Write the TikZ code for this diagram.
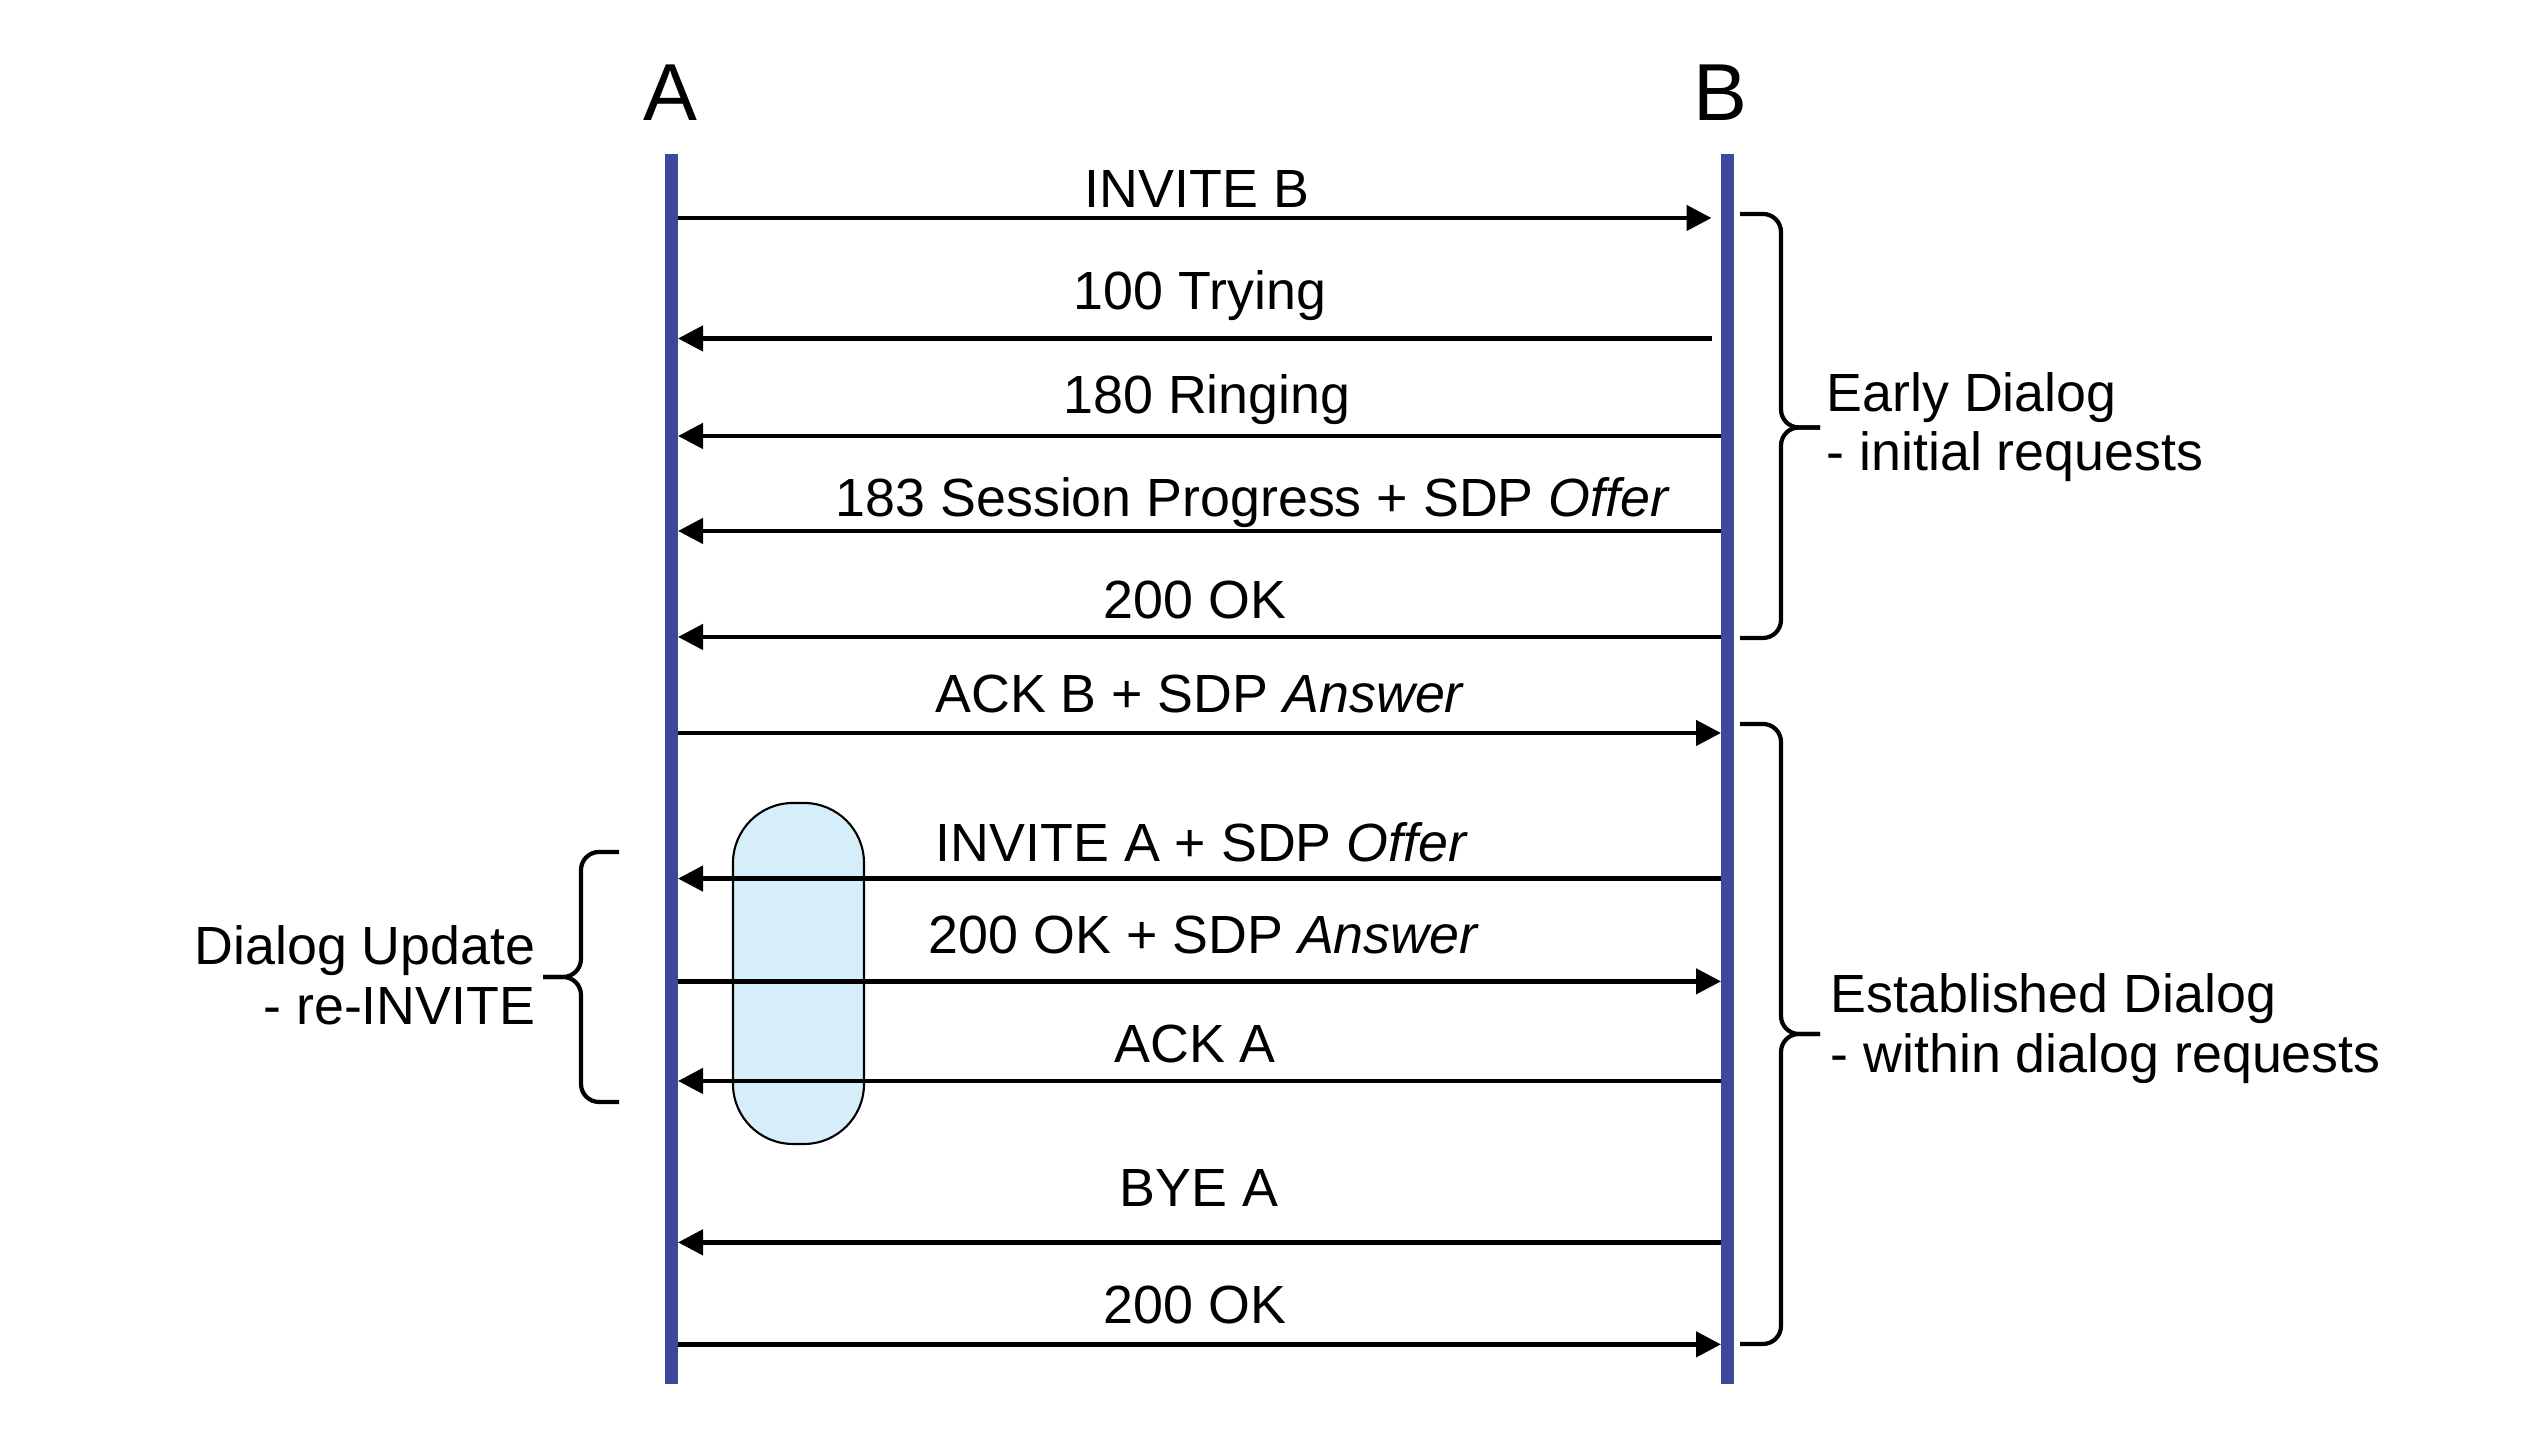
\documentclass[tikz,border=0pt]{standalone}
\usepackage{fontspec}
\setmainfont{Liberation Sans}
\usetikzlibrary{arrows.meta}

\definecolor{lifeblue}{RGB}{63,71,155}
\definecolor{boxblue}{RGB}{213,238,250}

\begin{document}
\begin{tikzpicture}[
  lifeline/.style={line width=0.13cm, lifeblue},
  msg/.style={line width=1.3pt, -{Triangle[length=0.25cm,width=0.25cm]}},
  lbl/.style={anchor=base, inner sep=0pt, font=\fontsize{15.3}{18}\selectfont},
  party/.style={anchor=base, inner sep=0pt, font=\fontsize{23}{27}\selectfont},
  note/.style={inner sep=0pt, font=\fontsize{15.3}{18}\selectfont},
  dlgbrace/.style={line width=1.2pt, rounded corners=0.18cm}
]
\useasboundingbox (0,0) rectangle (25.36,14.5);

% parties and lifelines
\node[party] (A) at (6.705,13.29) {A};
\node[party] (B) at (17.20,13.29) {B};
\coordinate (Atop) at (6.71,12.96);
\coordinate (Abot) at (6.71,0.66);
\coordinate (Btop) at (17.275,12.96);
\coordinate (Bbot) at (17.275,0.66);
\draw[lifeline] (Atop) -- (Abot);
\draw[lifeline] (Btop) -- (Bbot);

% re-INVITE box
\node[draw, fill=boxblue, line width=0.6pt, rounded corners=0.6cm,
      minimum width=1.31cm, minimum height=3.41cm] (reinv) at (7.985,4.765) {};

% message end points and labels
\foreach \n/\y/\xl/\yl/\txt in {
  1/12.32/11.97/12.42/{INVITE B},
  2/11.115/12.00/11.40/{100 Trying},
  3/10.14/12.07/10.36/{180 Ringing},
  4/9.19/12.53/9.33/{183 Session Progress + SDP \textit{Offer}},
  5/8.13/11.95/8.315/{200 OK},
  6/7.17/12.00/7.374/{ACK B + SDP \textit{Answer}},
  7/5.714/12.02/5.88/{INVITE A + SDP \textit{Offer}},
  8/4.686/12.04/4.962/{200 OK + SDP \textit{Answer}},
  9/3.69/11.95/3.875/{ACK A},
  10/2.076/11.99/2.432/{BYE A},
  11/1.056/11.95/1.265/{200 OK}}{
  \coordinate (a\n) at (6.78,\y);
  \coordinate (b\n) at (17.21,\y);
  \node[lbl] (m\n) at (\xl,\yl) {\txt};
}

\draw[msg, shorten >=0.095cm] (a1) -- (b1);
\draw[msg, shorten <=0.095cm] (b2) -- (a2);
\draw[msg] (b3) -- (a3);
\draw[msg] (b4) -- (a4);
\draw[msg] (b5) -- (a5);
\draw[msg] (a6) -- (b6);
\draw[msg] (b7) -- (a7);
\draw[msg] (a8) -- (b8);
\draw[msg] (b9) -- (a9);
\draw[msg] (b10) -- (a10);
\draw[msg] (a11) -- (b11);

% braces
\coordinate (earlyTop) at (17.40,12.36);
\coordinate (earlyBot) at (17.40,8.12);
\coordinate (earlyMid) at (17.81,10.225);
\coordinate (earlyPt) at (18.20,10.225);
\draw[dlgbrace] (earlyTop) -| (earlyMid) -- (earlyPt);
\draw[dlgbrace] (earlyBot) -| (earlyMid) -- (earlyPt);

\coordinate (estTop) at (17.40,7.26);
\coordinate (estBot) at (17.40,1.06);
\coordinate (estMid) at (17.81,4.16);
\coordinate (estPt) at (18.20,4.16);
\draw[dlgbrace] (estTop) -| (estMid) -- (estPt);
\draw[dlgbrace] (estBot) -| (estMid) -- (estPt);

\coordinate (updTop) at (6.19,5.98);
\coordinate (updBot) at (6.19,3.48);
\coordinate (updMid) at (5.81,4.73);
\coordinate (updPt) at (5.43,4.73);
\draw[dlgbrace] (updTop) -| (updMid) -- (updPt);
\draw[dlgbrace] (updBot) -| (updMid) -- (updPt);

% brace notes
\node[note, anchor=base west] (early1) at (18.26,10.384) {Early Dialog};
\node[note, anchor=base west] (early2) at (18.26,9.79) {- initial requests};
\node[note, anchor=base west] (est1) at (18.30,4.37) {Established Dialog};
\node[note, anchor=base west] (est2) at (18.30,3.77) {- within dialog requests};
\node[note, anchor=base east] (upd1) at (5.36,4.85) {Dialog Update};
\node[note, anchor=base east] (upd2) at (5.36,4.25) {- re-INVITE};
\end{tikzpicture}
\end{document}
